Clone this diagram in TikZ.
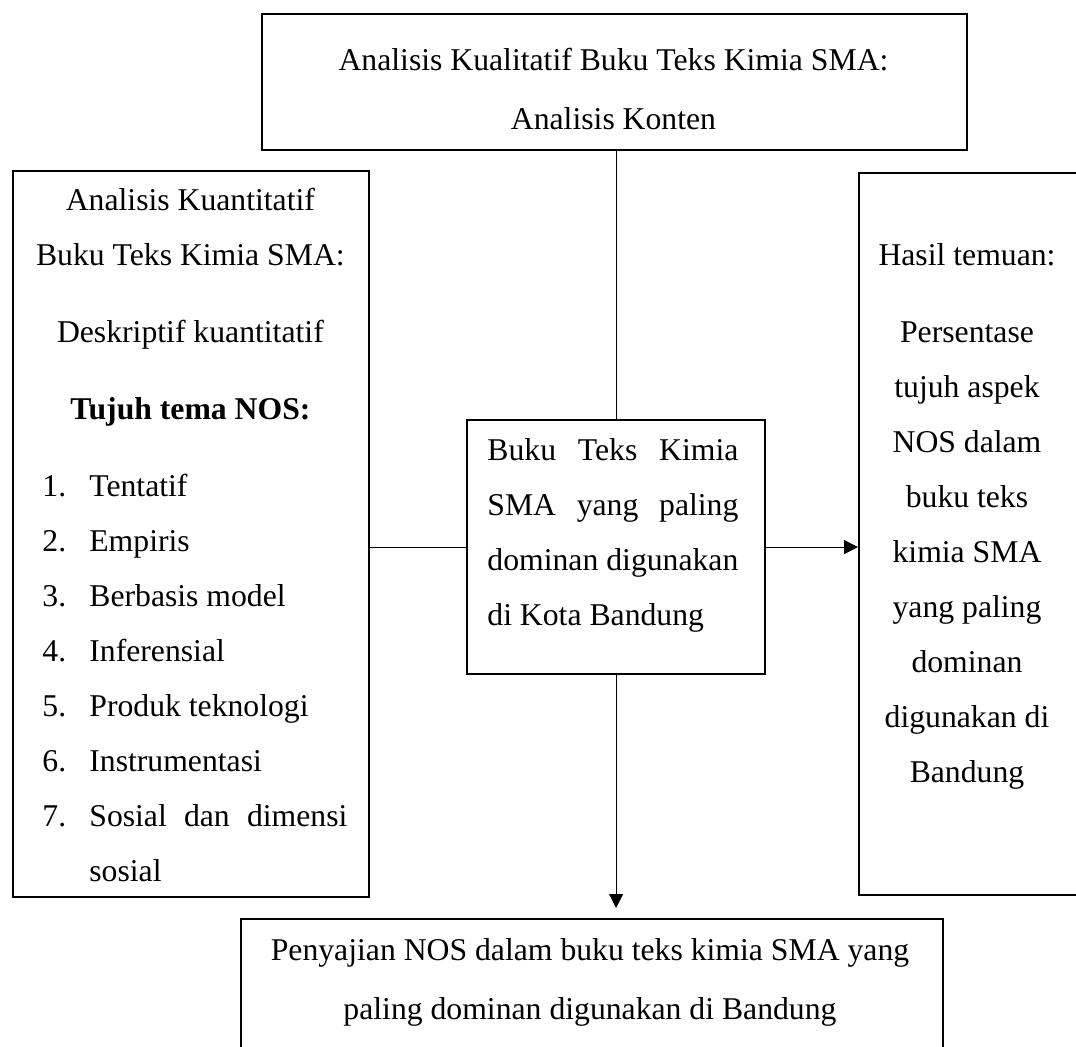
\documentclass[tikz,border=0pt]{standalone}
\usepackage{fontspec}
\setmainfont{Liberation Serif}
\usetikzlibrary{positioning,arrows.meta}

\begin{document}
\begin{tikzpicture}[x=0.5pt,y=-0.5pt,
  every node/.style={font=\fontsize{15.85}{27.5}\selectfont,inner sep=0pt},
  wide/.style={font=\fontsize{15.85}{29.5}\selectfont},
  panel/.style={draw,line width=1.1pt,anchor=north west},
  txt/.style={anchor=base,align=center},
  link/.style={line width=0.5pt},
  arrow/.style={link,-{Triangle[length=7pt,width=7pt]}}
]
\path[use as bounding box,clip] (0,0) rectangle (1076,1047);
\node[panel,minimum width=352.5pt,minimum height=68pt] (qual) at (261,13) {};
\node[panel,minimum width=178pt,minimum height=363pt] (quant) at (12,170) {};
\node[panel,minimum width=149pt,minimum height=127pt] (book) at (466,419) {};
\node[panel,minimum width=111pt,minimum height=361pt] (result) at (858,172) {};
\node[panel,minimum width=351pt,minimum height=75pt] (present) at (240,918) {};

\node[txt,wide] (qual-text) at (613.5,130) {Analisis Kualitatif Buku Teks Kimia SMA:\\Analisis Konten};
\node[anchor=base west,align=left] (quant-text) at (42,881) {%
  \makebox[148pt]{Analisis Kuantitatif}\\
  \makebox[148pt]{Buku Teks Kimia SMA:}\\[11pt]
  \makebox[148pt]{Deskriptif kuantitatif}\\[11pt]
  \makebox[148pt]{\textbf{Tujuh tema NOS:}}\\[11pt]
  \makebox[23.5pt][l]{1.}Tentatif\\
  \makebox[23.5pt][l]{2.}Empiris\\
  \makebox[23.5pt][l]{3.}Berbasis model\\
  \makebox[23.5pt][l]{4.}Inferensial\\
  \makebox[23.5pt][l]{5.}Produk teknologi\\
  \makebox[23.5pt][l]{6.}Instrumentasi\\
  \makebox[152.5pt][s]{\makebox[23.5pt][l]{7.}Sosial dan dimensi}\\
  \hspace*{23.5pt}sosial};
\node[anchor=base west,align=left] (book-text) at (487,625) {%
  \makebox[125.5pt][s]{Buku Teks Kimia}\\
  \makebox[125.5pt][s]{SMA yang paling}\\
  \makebox[125.5pt][s]{dominan digunakan}\\
  di Kota Bandung};
\node[txt] (result-text) at (967,782) {Hasil temuan:\\[11pt]Persentase\\tujuh aspek\\NOS dalam\\buku teks\\kimia SMA\\yang paling\\dominan\\digunakan di\\Bandung};
\node[txt,wide] (present-text) at (590,1019) {Penyajian NOS dalam buku teks kimia SMA yang\\paling dominan digunakan di Bandung};

\draw[link] (book.north |- qual.south) -- (book.north);
\draw[link] (quant.east |- book.west) -- (book.west);
\draw[arrow] (book.east) -- (book.east -| result.west);
\draw[arrow,shorten >=5pt] (book.south) -- (book.south |- present.north);
\end{tikzpicture}
\end{document}
